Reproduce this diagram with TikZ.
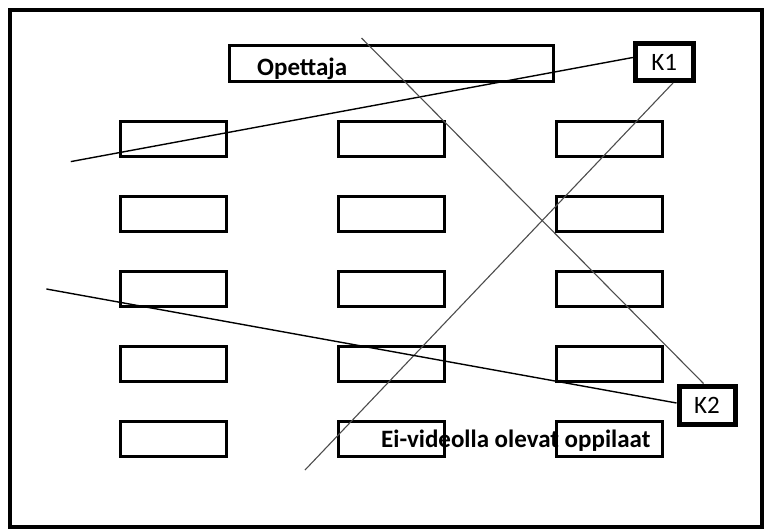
\documentclass[tikz,border=0pt]{standalone}
\usepackage{fontspec}
\setmainfont{Carlito}
\begin{document}
\begin{tikzpicture}[x=1pt,y=-1pt,
  desk/.style={draw,line width=3pt,inner sep=0pt,minimum width=106pt,minimum height=35pt},
  kbox/.style={draw,line width=5pt,inner sep=0pt,font=\fontsize{25}{30}\selectfont},
  label/.style={inner sep=0pt,font=\fontsize{25}{30}\selectfont\bfseries},
  dark/.style={line width=1.4pt,black},
  grey/.style={line width=1.1pt,black!70}]
\useasboundingbox (0,0) rectangle (766,530);
% outer frame
\draw[line width=4pt] (10,9.5) rectangle (762,527);
% teacher's desk and cameras
\node[desk,minimum width=324pt,minimum height=36pt] (teacher) at (391.5,63.5) {};
\node[kbox,minimum width=58pt,minimum height=37pt] (K1) at (664.3,62) {K1};
\node[kbox,minimum width=56pt,minimum height=38pt] (K2) at (707,405) {K2};
% student desks: 5 rows x 3 columns
\foreach \c/\x in {1/173.5,2/391.5,3/609.5}
  \foreach \r/\y in {1/138.5,2/213.5,3/288.5,4/363.5,5/438.5}
    \node[desk] (d\r\c) at (\x,\y) {};
% viewing lines of the cameras
\coordinate (k1left) at (70.8,161.6);
\coordinate (k1down) at (305,470);
\coordinate (k2up) at (361.5,38);
\coordinate (k2left) at (46.4,289);
\draw[dark] ([yshift=4.5pt]K1.west) -- (k1left);
\draw[grey] ([xshift=8.7pt]K1.south) -- (k1down);
\draw[grey] ([xshift=-3.5pt]K2.north) -- (k2up);
\draw[dark] ([yshift=2pt]K2.west) -- (k2left);
% texts
\node[label,anchor=base west] (tname) at (257,75) {Opettaja};
\node[label,anchor=base west] (sname) at (381,447) {Ei-videolla olevat oppilaat};
\end{tikzpicture}
\end{document}
